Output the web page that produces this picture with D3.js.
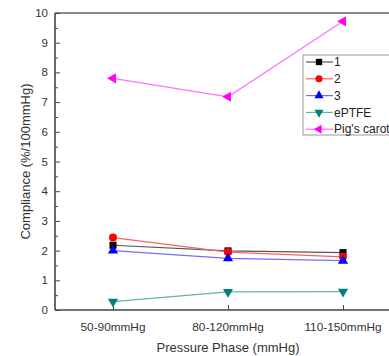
<!DOCTYPE html>
<html>
<head>
  <style>
    body { margin: 0; background: #fff; font-family: Arial, "Liberation Sans", sans-serif; }
  </style>
</head>
<body>
  <div id="chart"></div>
  <script src="https://d3js.org/d3.v7.min.js"></script>
  <script>
    // Data
    const phases = ["50-90mmHg", "80-120mmHg", "110-150mmHg"];
    const s1 = [2.18, 1.99, 1.93];
    const s2 = [2.44, 1.95, 1.79];
    const s3 = [2.00, 1.74, 1.66];
    const ePTFE = [0.28, 0.61, 0.62];
    const pig = [7.8, 7.18, 9.72];
    const yTicks = [0, 1, 2, 3, 4, 5, 6, 7, 8, 9, 10];

    const series = [
      { name: "1", values: s1, color: "#000000", line: "#555555", symbol: d3.symbolSquare },
      { name: "2", values: s2, color: "#ff0000", line: "#ff6060", symbol: d3.symbolCircle },
      { name: "3", values: s3, color: "#0000ff", line: "#6f6fff", symbol: "up" },
      { name: "ePTFE", values: ePTFE, color: "#007f7f", line: "#5fb5a8", symbol: "down" },
      { name: "Pig's carotid", values: pig, color: "#ff00ff", line: "#ff70ff", symbol: "left" }
    ];

    const W = 389, H = 356;
    const margin = { top: 13, right: -40, bottom: 46, left: 55 };
    const width = W - margin.left - margin.right;
    const height = H - margin.top - margin.bottom;

    const svg = d3.select("#chart").append("svg")
      .attr("width", W).attr("height", H);
    const g = svg.append("g")
      .attr("transform", "translate(" + margin.left + "," + margin.top + ")");

    const x = d3.scalePoint().domain(phases).range([58, 288]);
    const y = d3.scaleLinear().domain([0, 10]).range([height, 0]);

    const axisColor = "#444";

    // frame
    g.append("line").attr("x1", 0).attr("x2", width).attr("y1", 0).attr("y2", 0)
      .attr("stroke", "#666").attr("stroke-width", 1.6);

    // y axis (ticks inward)
    const yAxis = g.append("g")
      .call(d3.axisRight(y).tickValues(yTicks).tickSize(5).tickFormat(""));
    yAxis.select(".domain").attr("stroke", axisColor).attr("stroke-width", 1.6)
      .attr("d", "M0,0V" + height);
    yAxis.selectAll(".tick line").attr("stroke", axisColor);
    g.append("g")
      .call(d3.axisRight(y).tickValues(d3.range(0.5, 10, 1)).tickSize(3).tickFormat(""))
      .call(a => a.select(".domain").remove())
      .selectAll(".tick line").attr("stroke", axisColor);
    g.selectAll(".ylab").data(yTicks).enter().append("text")
      .attr("x", -7).attr("y", d => y(d)).attr("dy", "0.35em")
      .attr("text-anchor", "end").attr("font-size", 11.5).attr("fill", "#333")
      .text(d => d);

    // x axis (ticks inward)
    const xAxis = g.append("g").attr("transform", "translate(0," + height + ")")
      .call(d3.axisTop(x).tickSize(5).tickFormat(""));
    xAxis.select(".domain").attr("stroke", axisColor).attr("stroke-width", 1.6)
      .attr("d", "M0,0H" + width);
    xAxis.selectAll(".tick line").attr("stroke", axisColor);
    g.selectAll(".xlab").data(phases).enter().append("text")
      .attr("x", d => x(d)).attr("y", height + 21)
      .attr("text-anchor", "middle").attr("font-size", 11.8).attr("fill", "#333")
      .text(d => d);

    // axis titles
    svg.append("text").attr("x", 228).attr("y", 352)
      .attr("text-anchor", "middle").attr("font-size", 13).attr("fill", "#333")
      .text("Pressure Phase (mmHg)");
    svg.append("text")
      .attr("transform", "translate(30," + (margin.top + height / 2) + ") rotate(-90)")
      .attr("text-anchor", "middle").attr("font-size", 13).attr("fill", "#333")
      .text("Compliance (%/100mmHg)");

    function marker(sel, s, size) {
      if (typeof s.symbol === "string") {
        const rot = { up: 0, down: 180, left: -90 }[s.symbol];
        sel.append("path")
          .attr("d", d3.symbol().type(d3.symbolTriangle).size(size * 0.9)())
          .attr("transform", "rotate(" + rot + ")")
          .attr("fill", s.color);
      } else {
        sel.append("path")
          .attr("d", d3.symbol().type(s.symbol).size(size)())
          .attr("fill", s.color);
      }
    }

    const line = d3.line().x((d, i) => x(phases[i])).y(d => y(d));

    series.forEach(s => {
      g.append("path").datum(s.values)
        .attr("fill", "none").attr("stroke", s.line).attr("stroke-width", 1.2)
        .attr("d", line);
      g.selectAll(null).data(s.values).enter().append("g")
        .attr("transform", (d, i) => "translate(" + x(phases[i]) + "," + y(d) + ")")
        .each(function () { marker(d3.select(this), s, 50); });
    });

    // legend (runs off the right edge, as in the original)
    const lg = svg.append("g").attr("transform", "translate(303,55)");
    lg.append("rect").attr("x", 0).attr("y", 0).attr("width", 100).attr("height", 80)
      .attr("fill", "#fff").attr("stroke", "#999").attr("stroke-width", 1);
    series.forEach((s, i) => {
      const row = lg.append("g").attr("transform", "translate(0," + (7 + i * 16.8) + ")");
      row.append("line").attr("x1", 3).attr("x2", 30).attr("y1", 0).attr("y2", 0)
        .attr("stroke", s.line).attr("stroke-width", 1.2);
      const m = row.append("g").attr("transform", "translate(16,0)");
      marker(m, s, 40);
      row.append("text").attr("x", 31).attr("y", 0).attr("dy", "0.35em")
        .attr("font-size", 12).attr("fill", "#222").text(s.name);
    });
  </script>
</body>
</html>
